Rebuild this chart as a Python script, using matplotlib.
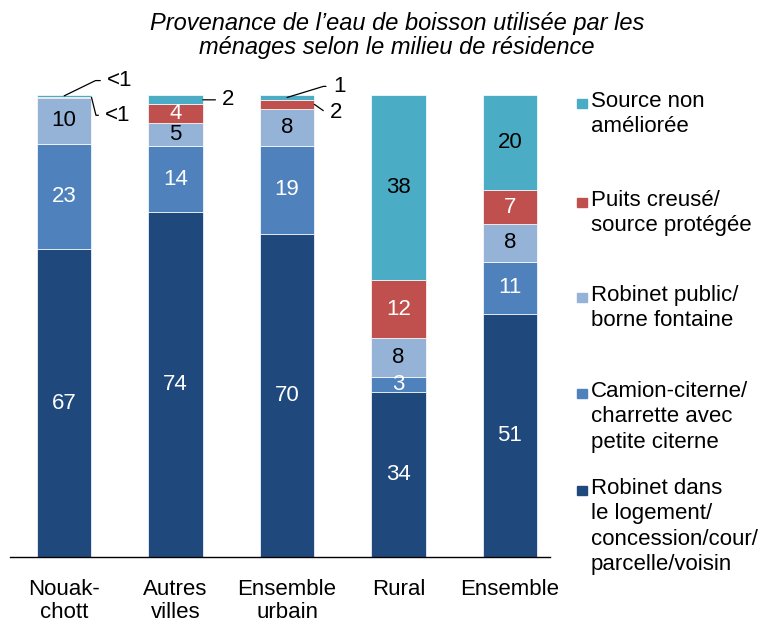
import numpy as np
import matplotlib
matplotlib.use("Agg")
from matplotlib import pyplot as plt
from matplotlib.patches import Rectangle

plt.rcParams["font.family"] = ["Liberation Sans", "DejaVu Sans"]

categories = ["Nouak-\nchott", "Autres\nvilles", "Ensemble\nurbain", "Rural", "Ensemble"]

# series, bottom to top (Excel 100% stacked: each bar normalised to its sum)
robinet_logement = [67, 74, 70, 34, 51]
camion_citerne = [23, 14, 19, 3, 11]
robinet_public = [10, 5, 8, 8, 8]
puits_creuse = [0.3, 4, 2, 12, 7]
source_non_amelioree = [0.3, 2, 1, 38, 20]

# labels shown for each series
labels_logement = ["67", "74", "70", "34", "51"]
labels_camion = ["23", "14", "19", "3", "11"]
labels_public = ["10", "5", "8", "8", "8"]
labels_puits = ["<1", "4", "2", "12", "7"]
labels_source = ["<1", "2", "1", "38", "20"]

series_names = [
    "Robinet dans\nle logement/\nconcession/cour/\nparcelle/voisin",
    "Camion-citerne/\ncharrette avec\npetite citerne",
    "Robinet public/\nborne fontaine",
    "Puits creusé/\nsource protégée",
    "Source non\naméliorée",
]
colors = ["#1F497D", "#4F81BD", "#95B3D7", "#C0504D", "#4BACC6"]
text_colors = ["white", "white", "black", "white", "black"]

series = [robinet_logement, camion_citerne, robinet_public, puits_creuse, source_non_amelioree]
labels = [labels_logement, labels_camion, labels_public, labels_puits, labels_source]

data = np.array(series, dtype=float)
pct = data / data.sum(axis=0) * 100

FS = 16

fig = plt.figure(figsize=(7.77, 6.22), dpi=100)
ax = fig.add_axes([0.013, 0.1045, 0.695, 0.7425])

x = np.arange(len(categories))
width = 0.49
bottom = np.zeros(len(categories))
for k in range(len(series)):
    ax.bar(x, pct[k], width, bottom=bottom, color=colors[k],
           edgecolor="white", linewidth=0.5)
    for i in range(len(categories)):
        if pct[k][i] >= 2.9:
            ax.text(x[i], bottom[i] + pct[k][i] / 2, labels[k][i],
                    ha="center", va="center", fontsize=FS, color=text_colors[k])
    bottom += pct[k]


# callouts for the small segments
def callout(i, k, side, dx, dy, conn):
    top = pct[:k + 1, i].sum()
    y = top - pct[k, i] / 2
    xx = x[i] + side * width / 2
    ax.annotate(labels[k][i], xy=(xx, y), xytext=(dx, dy), textcoords="offset points",
                ha="left", va="center", fontsize=FS,
                arrowprops=dict(arrowstyle="-", color="black", lw=0.9, shrinkA=3, shrinkB=0,
                                connectionstyle=conn))


callout(0, 4, 0, 31, 11, "angle,angleA=180,angleB=26,rad=0")
callout(0, 3, 1, 10, -13, "angle,angleA=180,angleB=104,rad=0")
callout(1, 4, 1, 14, 0, "arc3")
callout(2, 4, 0, 33, 8, "angle,angleA=180,angleB=17,rad=0")
callout(2, 3, 1, 11, -6, "angle,angleA=180,angleB=145,rad=0")

ax.set_xlim(-0.485, 4.36)
ax.set_ylim(0, 100)
ax.set_xticks(x)
ax.set_xticklabels(categories, fontsize=FS, linespacing=1.1)
ax.tick_params(axis="x", length=0, pad=16)
ax.set_yticks([])
for s in ["left", "right", "top"]:
    ax.spines[s].set_visible(False)
ax.spines["bottom"].set_linewidth(1.0)

fig.text(0.511, 0.98, "Provenance de l\u2019eau de boisson utilisée par les\nménages selon le milieu de résidence",
         ha="center", va="top", fontsize=17, style="italic", linespacing=1.05)

# legend, top to bottom
leg_centers = [103, 202, 297, 393, 490]
for j, k in enumerate(range(len(series) - 1, -1, -1)):
    yf = 1 - leg_centers[j] / 622
    fig.patches.append(Rectangle((577 / 777, yf - 4.5 / 622), 10 / 777, 9 / 622,
                                 transform=fig.transFigure, color=colors[k]))
    fig.text(591 / 777, yf + 12 / 622, series_names[k], ha="left", va="top",
             fontsize=FS, linespacing=1.28)

fig.savefig("out.png", dpi=100)
